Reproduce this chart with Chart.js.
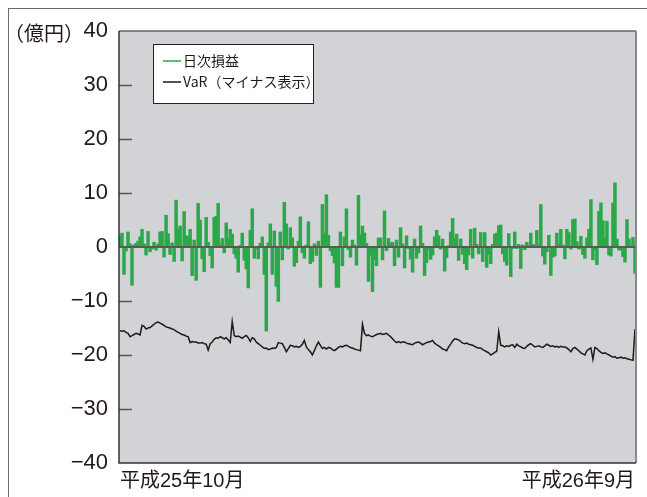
<!DOCTYPE html>
<html>
<head>
<meta charset="utf-8">
<script src="https://cdn.jsdelivr.net/npm/chart.js@4.4.1/dist/chart.umd.min.js"></script>
<style>
  html, body { margin: 0; padding: 0; background: #fff; }
  #wrap { position: relative; width: 647px; height: 497px; }
  #frame { position: absolute; left: 8px; top: 8px; right: 0; bottom: 0;
           border-top: 1px solid #6b6b6b; border-left: 1px solid #6b6b6b; }
  canvas { position: absolute; left: 0; top: 0; }
</style>
</head>
<body>
<div id="wrap">
  <div id="frame"></div>
  <canvas id="chart" width="647" height="497"></canvas>
</div>
<script>
// 日次損益 and VaR, daily, 平成25年10月 - 平成26年9月 (億円)

const dailyPL = [
  2.0, 2.5, -5.0, -0.7, 2.7, 0.5, -7.0, 0.3, 0.6, 1.0,
  1.8, 3.2, 0.5, -1.4, 2.8, -0.8, -0.3, 0.8, -0.5, 0.5,
  2.7, 2.8, -1.8, 5.8, 2.4, -1.3, 0.7, -2.6, 8.6, 3.2,
  3.8, -2.5, 6.5, 2.0, 1.8, 3.2, -5.2, 1.2, -6.1, 8.0,
  4.9, -2.1, -4.5, 5.4, 0.8, -1.5, -3.8, 5.4, 5.6, 8.0,
  0.3, 1.5, -1.0, 4.4, 1.5, 3.2, 2.3, -1.2, -2.0, -4.6,
  0.2, 2.5, -2.4, -4.0,
  -7.5, 3.0, 7.0, -2.0, -0.3, -2.1, 0.6, 1.8, -5.0,
  -15.5, 0.7, 4.2, -5.0, 2.9, -7.2, -10.0, 2.7, -2.3, 8.2,
  4.2, -0.3, 3.5, 1.6, -3.5, -2.8, 1.0, 5.5, -1.0, -2.0,
  0.3, 4.6, -3.0, -2.6, 0.5, -1.5, 1.0, -7.4, 7.8, 2.5,
  9.6, 2.1, -0.6, -1.5, -2.9, -7.4, -7.4, 2.7, -3.4, 1.8,
  7.0, -0.4, -1.8, 1.2, 0.3, -3.3, 9.5, 2.2, 3.8, 2.5,
  0.6, -6.3, -1.4, -8.2,
  -2.3, -3.4, 1.6, 1.6, -2.3, 6.6, -0.6, 1.5, 0.6, 0.8,
  -3.4, 1.2, -1.8, 3.5, 0.5, -3.8, 2.0, -0.2, -2.2, -4.6,
  1.4, -2.0, -1.0, 3.8, 0.6, -5.2, -2.8, -0.4, -2.2, -1.4,
  1.8, 3.0, 2.0, -0.3, 1.4, -4.4, -1.9, 0.2, 2.7, 5.2,
  1.5, 2.3, -2.4, 1.4, -1.3, -3.0, -4.1, -1.4, 3.2, -2.0,
  3.4, 0.4, -1.2, 2.6, -2.6, 2.6, -3.7, -1.3, -3.0, 0.4,
  2.3, 2.5, 3.9,
  4.0, -1.2, -2.6, -3.3, 2.4, -5.4, -0.2, 2.7, -0.2, 0.4,
  -3.9, 0.3, -0.4, 0.8, 0.2, 2.5, 0.4, 0.3, 3.0, 0.2,
  7.8, -1.6, -3.1, -0.8, 2.1, -5.2, -1.8, -1.6, 2.5, 0.5,
  3.2, 0.3, -2.1, 3.2, 2.6, -0.3, 5.0, 5.1, 0.9, -0.3,
  1.9, -1.3, -2.0, 1.6, 3.2, 8.7, -2.3, -0.4, -3.2, 6.5,
  8.1, 4.8, 1.5, 4.7, -1.4, -1.6, 8.1, 11.8, 1.4, -0.5,
  -0.5, -1.7, -2.7, 5.0, 1.4, 0.2, 1.7, -4.8
];

const varValues = [
  -15.5, -15.6, -15.5, -15.8, -16.0, -16.6, -16.4, -16.2, -16.0, -16.1,
  -16.3, -14.5, -14.7, -15.2, -15.0, -14.9, -14.6, -14.3, -14.0, -13.9,
  -14.1, -14.3, -14.5, -14.8, -14.9, -15.0, -15.2, -15.3, -15.6, -15.8,
  -16.0, -16.2, -16.3, -16.5, -16.6, -17.7, -17.5, -17.6, -17.6, -17.8,
  -17.8, -17.7, -17.9, -18.0, -19.1, -17.9, -17.6, -17.1, -16.8, -16.9,
  -16.6, -16.8, -17.0, -16.8, -17.2, -17.7, -13.8, -16.4, -16.6, -16.5,
  -16.7, -16.9, -16.6, -16.4, -16.8, -17.5, -16.8, -17.0, -17.6, -17.9,
  -18.2, -18.5, -18.8, -18.7, -19.0, -18.9, -18.7, -18.8, -18.6, -17.7,
  -17.8, -17.9, -18.6, -19.4, -18.8, -18.2, -18.3, -18.5, -18.4, -18.6,
  -18.4, -18.0, -17.3, -18.5, -19.0, -19.4, -20.0, -19.2, -18.3, -17.6,
  -18.2, -18.8, -18.6, -18.9, -18.6, -18.7, -19.0, -19.2, -18.9, -18.6,
  -18.4, -18.5, -18.3, -18.2, -18.4, -18.6, -18.7, -18.9, -19.0, -19.1,
  -19.2, -14.3, -16.0, -16.4, -16.3, -16.5, -16.6, -16.4, -16.2, -16.1,
  -16.0, -16.2, -16.1, -16.0, -16.3, -16.6, -17.0, -17.4, -17.7, -17.5,
  -17.7, -17.6, -17.6, -17.8, -17.9, -18.0, -18.1, -17.8, -17.7, -17.6,
  -17.8, -18.1, -17.9, -17.7, -17.6, -17.5, -17.3, -17.8, -18.1, -18.3,
  -18.6, -18.9, -19.0, -19.2, -18.5, -18.0, -17.4, -17.0, -17.1, -17.2,
  -17.5, -17.8, -17.9, -17.8, -18.0, -18.1, -18.2, -18.4, -18.6, -18.7,
  -18.7, -19.0, -19.2, -19.4, -19.6, -20.0, -19.8, -19.5, -19.3, -15.7,
  -18.2, -18.3, -18.5, -18.3, -18.4, -18.2, -18.1, -18.6, -18.0, -18.3,
  -18.5, -18.7, -18.8, -18.4, -18.1, -17.9, -18.2, -18.5, -18.4, -18.3,
  -18.5, -18.6, -18.3, -18.0, -18.2, -18.4, -18.3, -18.5, -18.4, -18.6,
  -18.4, -18.5, -18.5, -18.7, -19.0, -19.4, -18.8, -18.6, -18.9, -19.2,
  -19.6, -19.8, -20.0, -19.2, -18.9, -18.7, -20.8, -18.6, -18.8, -19.2,
  -19.5, -19.7, -19.6, -19.8, -20.0, -20.2, -20.4, -20.3, -20.6, -20.5,
  -20.4, -20.6, -20.5, -20.7, -20.8, -20.9, -21.0, -15.2
];

// one category per trading day
const days = dailyPL.map((_, i) => i + 1);
const xTickLabels = ['平成25年10月', '平成26年9月'];
const yTicks = [40, 30, 20, 10, 0, -10, -20, -30, -40];
const seriesNames = ['日次損益', 'VaR（マイナス表示）'];
const unitLabel = '（億円）';

const GREEN = '#2aa84a';
const LINE = '#231815';
const FONT = "'Liberation Sans', 'Noto Sans CJK JP', sans-serif";
const JP_FONT = "'Noto Sans CJK JP', sans-serif";

const decorations = {
  id: 'decorations',
  beforeDatasetsDraw(chart) {
    const { ctx, chartArea: a } = chart;
    ctx.save();
    ctx.fillStyle = '#d1d3d6';
    ctx.fillRect(a.left, a.top, a.right - a.left, a.bottom - a.top);
    ctx.restore();
  },
  afterDatasetsDraw(chart) {
    const { ctx, chartArea: a, scales } = chart;
    const y = scales.y;
    ctx.save();
    // zero line
    const y0 = y.getPixelForValue(0);
    ctx.strokeStyle = '#595959';
    ctx.lineWidth = 2;
    ctx.beginPath();
    ctx.moveTo(a.left, y0);
    ctx.lineTo(a.right, y0);
    ctx.stroke();
    // short inner ticks
    ctx.strokeStyle = '#555';
    ctx.lineWidth = 1.5;
    yTicks.forEach((v) => {
      if (v === 0 || v === 40 || v === -40) return;
      const py = Math.round(y.getPixelForValue(v)) + 0.5;
      ctx.beginPath();
      ctx.moveTo(a.left, py);
      ctx.lineTo(a.left + 13, py);
      ctx.stroke();
    });
    // plot border
    ctx.lineWidth = 1.5;
    ctx.strokeStyle = '#666';
    ctx.beginPath();
    ctx.moveTo(a.left, a.top);
    ctx.lineTo(a.right, a.top);
    ctx.stroke();
    ctx.strokeStyle = '#8a8a8a';
    ctx.lineWidth = 2;
    ctx.beginPath();
    ctx.moveTo(a.right, a.top);
    ctx.lineTo(a.right, a.bottom);
    ctx.stroke();
    ctx.strokeStyle = '#333';
    ctx.lineWidth = 1.5;
    ctx.beginPath();
    ctx.moveTo(a.left, a.top);
    ctx.lineTo(a.left, a.bottom);
    ctx.lineTo(a.right, a.bottom);
    ctx.stroke();

    // legend box
    const lx = 153, ly = 44, lw = 160, lh = 59;
    ctx.fillStyle = '#fff';
    ctx.fillRect(lx, ly, lw, lh);
    ctx.strokeStyle = '#222';
    ctx.lineWidth = 1;
    ctx.strokeRect(lx + 0.5, ly + 0.5, lw, lh);
    const items = [
      { color: GREEN, y: 61 },
      { color: LINE, y: 82 },
    ];
    ctx.font = '14px ' + JP_FONT;
    ctx.textBaseline = 'middle';
    ctx.textAlign = 'left';
    items.forEach((it, i) => {
      ctx.strokeStyle = it.color;
      ctx.lineWidth = 1.5;
      ctx.beginPath();
      ctx.moveTo(163, it.y);
      ctx.lineTo(181, it.y);
      ctx.stroke();
      ctx.fillStyle = '#231815';
      ctx.fillText(seriesNames[i], 183, it.y);
    });

    // unit label
    ctx.font = '20px ' + JP_FONT;
    ctx.fillStyle = '#231815';
    ctx.textAlign = 'left';
    ctx.fillText(unitLabel, 4, 33);
    ctx.restore();
  },
};

new Chart(document.getElementById('chart'), {
  data: {
    labels: days,
    datasets: [
      {
        type: 'line',
        label: seriesNames[1],
        data: varValues,
        borderColor: LINE,
        borderWidth: 1.5,
        pointRadius: 0,
        tension: 0,
        order: 0,
      },
      {
        type: 'bar',
        label: seriesNames[0],
        data: dailyPL,
        backgroundColor: GREEN,
        borderWidth: 0,
        inflateAmount: 0.75,
        barPercentage: 1,
        categoryPercentage: 1,
        order: 1,
      },
    ],
  },
  options: {
    responsive: false,
    animation: false,
    events: [],
    layout: { padding: { left: 0, top: 31, right: 11, bottom: 0 } },
    plugins: {
      legend: { display: false },
      tooltip: { enabled: false },
    },
    scales: {
      x: {
        type: 'category',
        offset: true,
        grid: { display: false, drawTicks: false },
        border: { display: false },
        afterFit(scale) { scale.height = 34; },
        ticks: {
          autoSkip: false,
          maxRotation: 0,
          minRotation: 0,
          align: 'inner',
          padding: 6,
          color: '#231815',
          font: { family: FONT, size: 20 },
          callback: (v, i) => (i === 0 ? xTickLabels[0] : i === days.length - 1 ? xTickLabels[1] : ''),
        },
      },
      y: {
        min: -40,
        max: 40,
        afterFit(scale) { scale.width = 119; },
        afterBuildTicks(scale) { scale.ticks = yTicks.map((v) => ({ value: v })); },
        grid: { display: false, drawTicks: false },
        border: { display: false },
        ticks: {
          padding: 11,
          color: '#231815',
          font: { family: FONT, size: 22 },
          callback: (v) => String(v).replace('-', '\u2212'),
        },
      },
    },
  },
  plugins: [decorations],
});
</script>
</body>
</html>
